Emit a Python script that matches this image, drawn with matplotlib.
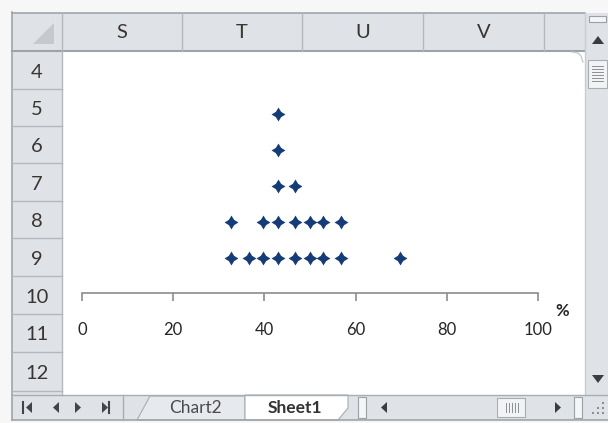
import matplotlib
matplotlib.use("Agg")
import matplotlib.pyplot as plt
from matplotlib.patches import Rectangle, Polygon
from matplotlib.path import Path

plt.rcParams['font.family'] = ['Lato', 'DejaVu Sans']

# data (percent values and how many dots are stacked)
values = [32.7, 36.6, 39.6, 42.9, 46.7, 50.0, 52.9, 56.9, 69.7]
counts = [2, 1, 2, 5, 3, 2, 2, 2, 1]
xticks = [0, 20, 40, 60, 80, 100]

# spreadsheet chrome
col_names = ["S", "T", "U", "V"]
row_names = ["4", "5", "6", "7", "8", "9", "10", "11", "12"]

W, H = 608, 423
HDR = '#dfe3e8'
LINE = '#b4b8bd'
TXT = '#3a3530'

fig = plt.figure(figsize=(W / 100, H / 100), dpi=100)
fig.patch.set_facecolor('#f7f7f7')

bg = fig.add_axes([0, 0, 1, 1])
bg.set_xlim(0, W)
bg.set_ylim(H, 0)
bg.axis('off')

# frame + header backgrounds
bg.add_patch(Rectangle((12, 13), W - 12, 407, fc='white', ec='none'))
bg.add_patch(Rectangle((12, 13), 573, 38.5, fc=HDR, ec='none'))
bg.add_patch(Rectangle((12, 13), 50, 382, fc=HDR, ec='none'))
bg.plot([12, 12], [12.5, 420], color='#a0a5aa', lw=1.2)
bg.plot([12, 585], [12.8, 12.8], color='#a0a5aa', lw=1.2)
bg.plot([12, 585], [51.5, 51.5], color='#9ea3a8', lw=1.5)
bg.plot([62, 62], [13, 395], color=LINE, lw=1)

# select-all triangle
bg.add_patch(Polygon([(33, 44), (54, 44), (54, 23)], fc='#c5c9cd', ec='none'))

# column headers
col_edges = [62, 182, 302, 423, 544]
for i, name in enumerate(col_names):
    bg.text((col_edges[i] + col_edges[i + 1]) / 2, 33, name, ha='center', va='center',
            fontsize=14.5, color=TXT)
for x in col_edges[1:]:
    bg.plot([x, x], [13, 51.5], color=LINE, lw=1)

# row headers
row_edges = [51.5, 89, 126, 163, 201, 238, 276.5, 314, 352, 391]
for i, name in enumerate(row_names):
    bg.text(37, (row_edges[i] + row_edges[i + 1]) / 2 + 2, name, ha='center', va='center',
            fontsize=14.5, color=TXT)
for y in row_edges[1:]:
    bg.plot([12, 62], [y, y], color=LINE, lw=1)

# vertical scrollbar
bg.add_patch(Rectangle((585, 13), 23, 383, fc=HDR, ec='none'))
bg.plot([585, 585], [13, 395], color='#c8ccd0', lw=1)
bg.add_patch(Rectangle((589, 16), 17, 6, fc='#f4f5f6', ec='#9aa0a6', lw=0.8))
bg.add_patch(Polygon([(592, 44), (604, 44), (598, 36)], fc='#3c3c3c', ec='none'))
bg.add_patch(Rectangle((588, 60), 19, 28, fc='#f2f3f5', ec='#a8adb2', lw=0.8))
for y in [66, 69, 72, 75, 78, 81]:
    bg.plot([592, 603], [y, y], color='#8a8f94', lw=0.7)
bg.add_patch(Polygon([(592, 375), (604, 375), (598, 383)], fc='#3c3c3c', ec='none'))

# bottom bar: sheet tabs + horizontal scrollbar
bg.add_patch(Rectangle((12, 395), W - 12, 25, fc=HDR, ec='none'))
bg.plot([12, W], [395, 395], color='#a8adb2', lw=1)
bg.plot([12, W], [420, 420], color='#a0a5aa', lw=1.2)
for x in [28, 55]:
    bg.add_patch(Polygon([(x + 4, 402), (x + 4, 413), (x - 2, 407.5)], fc='#444444', ec='none'))
for x in [78, 105]:
    bg.add_patch(Polygon([(x - 3, 402), (x - 3, 413), (x + 3, 407.5)], fc='#444444', ec='none'))
bg.plot([23, 23], [402, 413], color='#444444', lw=1.5)
bg.plot([109, 109], [402, 413], color='#444444', lw=1.5)
bg.plot([123, 123], [395, 420], color='#a8adb2', lw=1)

# Chart2 tab (inactive) and Sheet1 tab (active)
bg.add_patch(Polygon([(137, 420), (150, 396), (245, 396), (245, 420)], fc='#e6e9ed', ec='#a8adb2', lw=0.8))
bg.text(195, 408, "Chart2", ha='center', va='center', fontsize=12.5, color='#4a4a4a')
bg.add_patch(Polygon([(245, 395), (348, 395), (348, 408), (338, 420), (245, 420)], fc='white', ec='#a8adb2', lw=0.8))
bg.text(295, 408, "Sheet1", ha='center', va='center', fontsize=12.5, color='#333333',
        fontweight='bold')

# horizontal scrollbar parts
bg.add_patch(Rectangle((358, 397), 8, 21, fc='#f4f5f6', ec='#9aa0a6', lw=0.8))
bg.add_patch(Polygon([(387, 402), (387, 413), (381, 407.5)], fc='#3c3c3c', ec='none'))
bg.add_patch(Rectangle((497, 398), 28, 19, fc='#f2f3f5', ec='#a8adb2', lw=0.8))
for x in [506, 509, 512, 515, 518]:
    bg.plot([x, x], [403, 412], color='#8a8f94', lw=0.7)
bg.add_patch(Polygon([(555, 402), (555, 413), (561, 407.5)], fc='#3c3c3c', ec='none'))
bg.add_patch(Rectangle((574, 397), 8, 21, fc='#f4f5f6', ec='#9aa0a6', lw=0.8))
for (gx, gy) in [(602, 402), (602, 407), (597, 407), (602, 412), (597, 412), (592, 412)]:
    bg.add_patch(Rectangle((gx, gy), 2, 2, fc='#8a8f94', ec='none'))

# chart rounded corner hint
bg.plot([572, 578, 581, 583], [52, 53, 56, 62], color='#c8ccd0', lw=1)

# dot plot axes: white chart area from x 62..585, y 51.5..395 px
left, right, top, bottom = 62, 585, 52, 395
ax = fig.add_axes([left / W, 1 - bottom / H, (right - left) / W, (bottom - top) / H])
ax.patch.set_alpha(0)

px_per_unit = 4.56
x0_px = 82
ax.set_xlim((left - x0_px) / px_per_unit, (right - x0_px) / px_per_unit)
lvl_px = 35.8
axis_px = 293.3
ax.set_ylim((axis_px - bottom) / lvl_px, (axis_px - top) / lvl_px)

star = Path([(0, 1), (0.38, 0.38), (1, 0), (0.38, -0.38), (0, -1), (-0.38, -0.38), (-1, 0),
             (-0.38, 0.38), (0, 1)],
            [Path.MOVETO] + [Path.LINETO] * 7 + [Path.CLOSEPOLY])

xs, ys = [], []
for v, c in zip(values, counts):
    for k in range(1, c + 1):
        xs.append(v)
        ys.append(k)
ax.scatter(xs, ys, marker=star, s=100, color='#163c78', linewidths=0, zorder=3)

for side in ['top', 'left', 'right']:
    ax.spines[side].set_visible(False)
ax.spines['bottom'].set_position(('data', 0))
ax.spines['bottom'].set_bounds(0, 100)
ax.spines['bottom'].set_color('#8c8c8c')
ax.spines['bottom'].set_linewidth(1.2)
ax.set_xticks(xticks)
ax.set_xticklabels([str(t) for t in xticks])
ax.tick_params(axis='x', direction='out', length=5.5, width=1.2, color='#8c8c8c',
               pad=15, labelsize=12, labelcolor='#262626')
ax.set_yticks([])
ax.text(105.2, -0.5, "%", ha='center', va='center', fontsize=12, color='#262626',
        fontweight='bold')

fig.savefig("out.png", dpi=100, facecolor=fig.get_facecolor())
